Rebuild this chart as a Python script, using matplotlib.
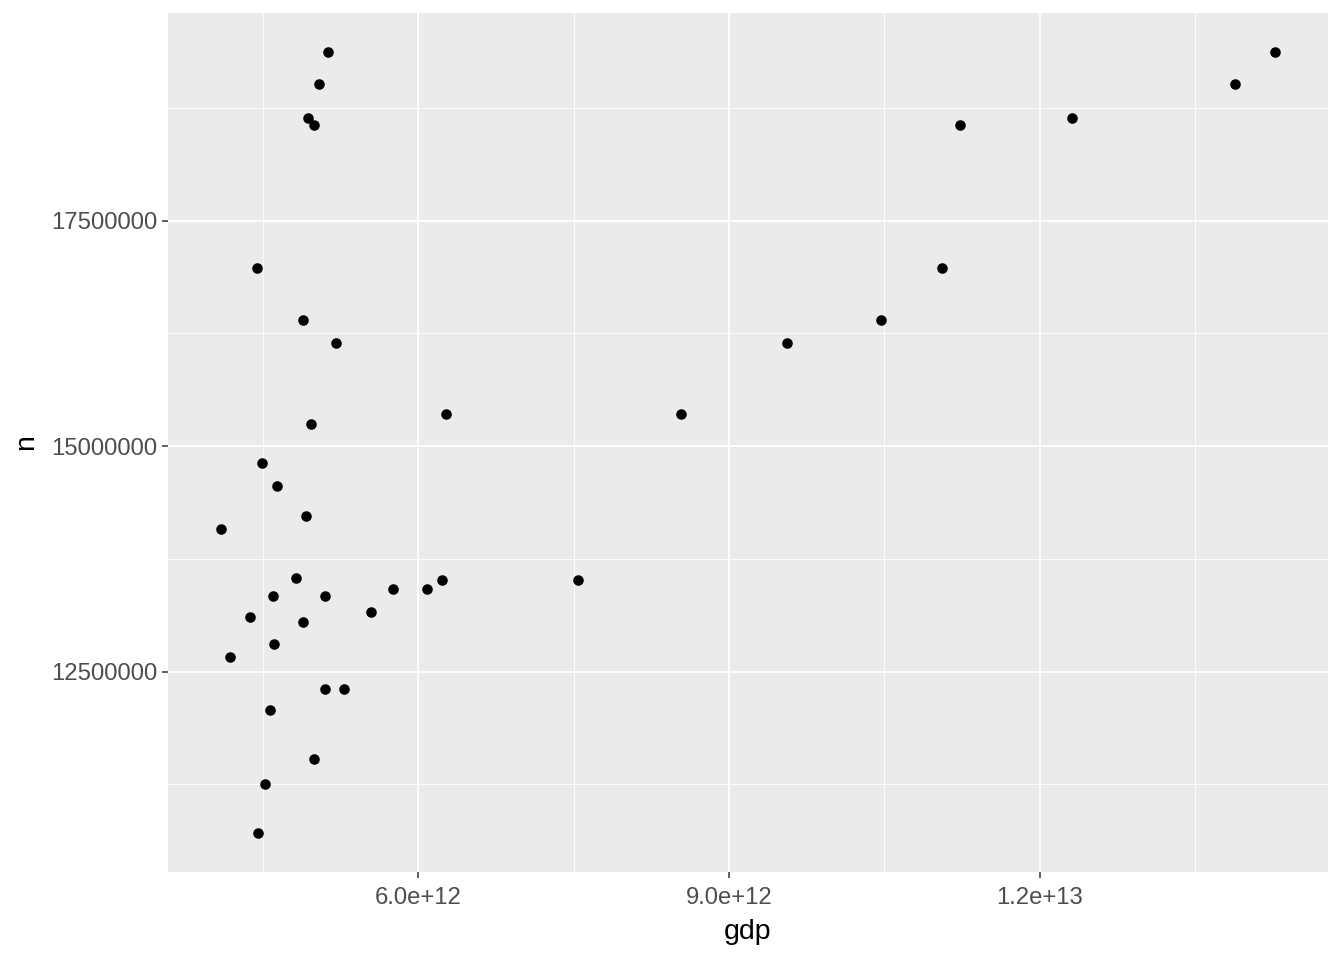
import numpy as np
import matplotlib
matplotlib.use("Agg")
import matplotlib.pyplot as plt

# data
gdp = [5.133e12, 14.273e12, 5.037e12, 13.888e12, 4.931e12, 12.308e12, 4.998e12, 11.230e12,
       4.440e12, 11.056e12, 4.883e12, 10.469e12, 5.210e12, 9.563e12, 6.270e12, 8.533e12,
       4.969e12, 4.488e12, 4.632e12, 4.912e12, 4.093e12, 4.815e12, 6.231e12, 7.541e12,
       5.759e12, 6.087e12, 4.594e12, 5.104e12, 5.547e12, 4.372e12, 4.883e12, 4.603e12,
       4.180e12, 5.095e12, 5.287e12, 4.565e12, 4.998e12, 4.517e12, 4.449e12]
n = [19.368e6, 19.368e6, 19.013e6, 19.013e6, 18.636e6, 18.636e6, 18.559e6, 18.559e6,
     16.973e6, 16.973e6, 16.397e6, 16.397e6, 16.142e6, 16.142e6, 15.355e6, 15.355e6,
     15.244e6, 14.812e6, 14.557e6, 14.224e6, 14.080e6, 13.537e6, 13.514e6, 13.514e6,
     13.415e6, 13.415e6, 13.337e6, 13.337e6, 13.160e6, 13.104e6, 13.049e6, 12.805e6,
     12.661e6, 12.306e6, 12.306e6, 12.073e6, 11.530e6, 11.253e6, 10.710e6]

x_ticks = [6.0e12, 9.0e12, 1.2e13]
x_labels = ["6.0e+12", "9.0e+12", "1.2e+13"]
x_minor = [4.5e12, 7.5e12, 10.5e12, 13.5e12]
y_ticks = [12500000, 15000000, 17500000]
y_labels = ["12500000", "15000000", "17500000"]
y_minor = [11250000, 13750000, 16250000, 18750000]

plt.rcParams['font.family'] = ['Liberation Sans', 'DejaVu Sans']

fig = plt.figure(figsize=(13.44, 9.6), dpi=100)
ax = fig.add_axes([168/1344, 1-872/960, (1328-168)/1344, (872-13)/960])
ax.set_facecolor('#EBEBEB')

ax.scatter(gdp, n, s=7.6**2, color='black', linewidths=0, zorder=3)
ax.margins(0.05)

ax.set_xticks(x_ticks)
ax.set_xticklabels(x_labels)
ax.set_xticks(x_minor, minor=True)
ax.set_yticks(y_ticks)
ax.set_yticklabels(y_labels)
ax.set_yticks(y_minor, minor=True)

ax.grid(which='major', color='white', linewidth=1.4)
ax.grid(which='minor', color='white', linewidth=0.7)
ax.set_axisbelow(True)

for s in ax.spines.values():
    s.set_visible(False)

ax.tick_params(which='major', length=4, width=1.1, color='#333333',
               labelsize=17.2, labelcolor='#4D4D4D')
ax.tick_params(axis='x', which='major', pad=7)
ax.tick_params(axis='y', which='major', pad=4)
ax.tick_params(which='minor', length=0)

ax.set_xlabel('gdp', fontsize=20.5, labelpad=7)
ax.set_ylabel('n', fontsize=20.5, labelpad=8)

fig.savefig('out.png', dpi=100)
